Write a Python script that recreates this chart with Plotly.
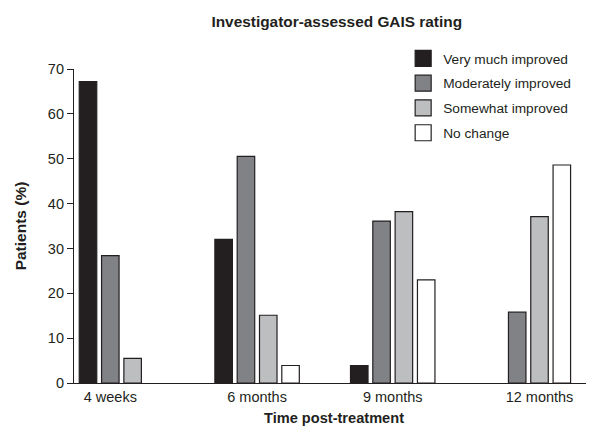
import plotly.graph_objects as go

categories = ["4 weeks", "6 months", "9 months", "12 months"]
very_much = [67.2, 32.0, 3.9, None]
moderately = [28.4, 50.5, 36.1, 15.8]
somewhat = [5.5, 15.1, 38.2, 37.1]
no_change = [None, 3.9, 23.0, 48.6]
series_names = ["Very much improved", "Moderately improved", "Somewhat improved", "No change"]
colors = ["#231f20", "#808285", "#bcbec0", "#ffffff"]
y_ticks = [0, 10, 20, 30, 40, 50, 60, 70]

FONT = "Liberation Sans, Arial, sans-serif"
INK = "#231f20"
BARGAP = 0.342

series = [very_much, moderately, somewhat, no_change]
positions = list(range(len(categories)))

# tick labels centred under the bars that are present in each group
n = len(series)
slot = (1 - BARGAP) / n
tick_pos = []
for i in positions:
    present = [k for k in range(n) if series[k][i] is not None]
    offs = [(k - (n - 1) / 2) * slot for k in present]
    tick_pos.append(i + sum(offs) / len(offs))

fig = go.Figure()
for i, (name, vals) in enumerate(zip(series_names, series)):
    fig.add_trace(go.Bar(
        x=positions, y=vals, name=name, legendgroup=f"g{i}", showlegend=False,
        marker=dict(color=colors[i], line=dict(color=INK, width=1.2)),
    ))
# legend entries (square swatches)
for i, name in enumerate(series_names):
    fig.add_trace(go.Scatter(
        x=[None], y=[None], mode="markers", name=name, legendgroup=f"g{i}",
        marker=dict(symbol="square", size=16, color=colors[i], line=dict(color=INK, width=1.2)),
    ))

fig.update_layout(
    width=586, height=422,
    margin=dict(l=66, r=0, t=61, b=47),
    paper_bgcolor="white", plot_bgcolor="white",
    barmode="group", bargap=BARGAP, bargroupgap=0.215,
    font=dict(family=FONT, size=14.5, color=INK),
    title=dict(text="<b>Investigator-assessed GAIS rating</b>", x=0.561, xanchor="center",
               y=0.968, yanchor="middle", font=dict(size=15.4, family=FONT, color=INK)),
    legend=dict(x=0.633, xanchor="left", y=1.083, yanchor="top", bgcolor="rgba(0,0,0,0)",
                font=dict(size=13.7, family=FONT, color=INK),
                traceorder="grouped", tracegroupgap=4, itemsizing="trace"),
    showlegend=True,
)
fig.update_xaxes(
    type="linear", range=[-0.350, 3.484],
    tickmode="array", tickvals=tick_pos, ticktext=categories,
    showline=True, linecolor=INK, linewidth=1.2, ticks="", showgrid=False, zeroline=False,
    title=dict(text="<b>Time post-treatment</b>", font=dict(size=14.6, family=FONT), standoff=9),
    tickfont=dict(size=14.5),
)
fig.update_yaxes(
    range=[0, 70], tickvals=y_ticks,
    showline=True, linecolor=INK, linewidth=1.2, ticks="outside", ticklen=6,
    tickcolor=INK, showgrid=False, zeroline=False,
    title=dict(text="<b>Patients (%)</b>", font=dict(size=15.5, family=FONT), standoff=17),
    tickfont=dict(size=14.5),
)

fig.write_html("out.html")
